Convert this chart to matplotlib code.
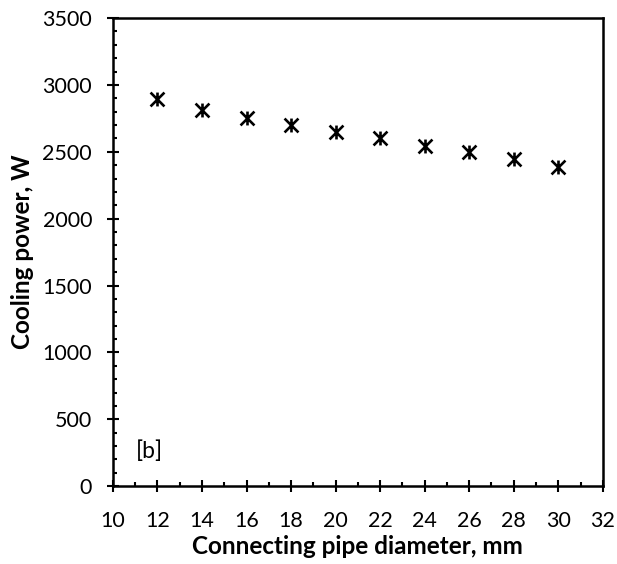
import matplotlib
matplotlib.use("Agg")
import matplotlib.pyplot as plt
from matplotlib.path import Path
from matplotlib.ticker import MultipleLocator

plt.rcParams['font.family'] = ['Lato', 'DejaVu Sans']

diameter_mm = [12, 14, 16, 18, 20, 22, 24, 26, 28, 30]
cooling_power_w = [2895, 2812, 2752, 2702, 2650, 2600, 2547, 2497, 2443, 2390]

# star marker: an X crossed by a vertical stroke
star = Path(
    [(-1, -1), (1, 1), (-1, 1), (1, -1), (0, -1), (0, 1)],
    [Path.MOVETO, Path.LINETO, Path.MOVETO, Path.LINETO, Path.MOVETO, Path.LINETO],
)

fig = plt.figure(figsize=(6.17, 5.64), dpi=100)
ax = fig.add_axes([0.183, 0.138, 0.794, 0.830])

ax.plot(diameter_mm, cooling_power_w, linestyle='none', marker=star,
        markersize=10, markeredgewidth=1.9, color='black')

ax.set_xlim(10, 32)
ax.set_ylim(0, 3500)
ax.xaxis.set_major_locator(MultipleLocator(2))
ax.xaxis.set_minor_locator(MultipleLocator(1))
ax.yaxis.set_major_locator(MultipleLocator(500))
ax.yaxis.set_minor_locator(MultipleLocator(100))

for s in ax.spines.values():
    s.set_linewidth(1.8)
ax.tick_params(which='major', direction='inout', length=8, width=1.5,
               labelsize=15.5)
ax.tick_params(axis='x', which='major', pad=14)
ax.tick_params(axis='y', which='major', pad=11)
ax.tick_params(which='minor', direction='in', length=3.2, width=1.5)

ax.set_xlabel('Connecting pipe diameter, mm', fontsize=17.5, fontweight='bold', labelpad=3)
ax.set_ylabel('Cooling power, W', fontsize=17.5, fontweight='bold', labelpad=6)

ax.text(11.05, 260, '[b]', fontsize=16.5, va='center', ha='left')

fig.savefig('out.png', dpi=100)
